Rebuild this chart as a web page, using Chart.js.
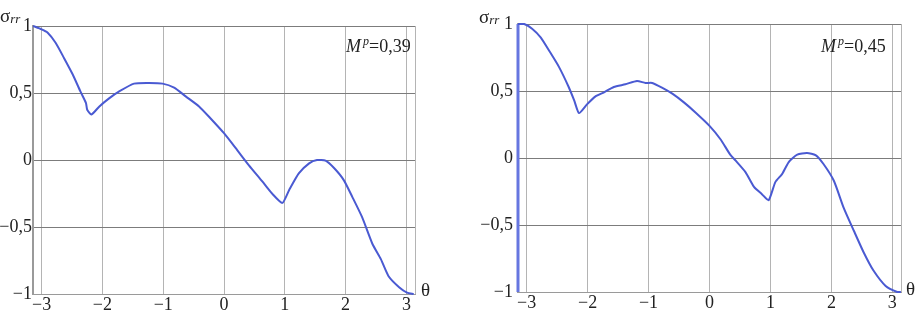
<!DOCTYPE html>
<html>
<head>
<meta charset="utf-8">
<script src="https://cdn.jsdelivr.net/npm/chart.js@4.4.1/dist/chart.umd.min.js"></script>
<style>
  body { margin: 0; background: #fff; width: 916px; height: 313px; position: relative; overflow: hidden; font-family: "Liberation Serif", "Times New Roman", serif; }
  .box { position: absolute; top: 0; width: 458px; height: 313px; }
  .lbl { position: absolute; color: #222; white-space: nowrap; line-height: 1; }
  .sig { font-size: 19px; }
  .sig sub { font-size: 13px; font-style: italic; vertical-align: -1px; }
  .th { font-size: 19px; }
  .mp { font-size: 18px; }
  .mp sup { font-size: 12px; font-style: italic; vertical-align: 7px; margin-left: 2px; }
</style>
</head>
<body>
<div class="box" style="left:0"><canvas id="left" width="458" height="313"></canvas></div>
<div class="box" style="left:458px"><canvas id="right" width="458" height="313"></canvas></div>

<div class="lbl sig" style="left:0px;top:6px">σ<sub>rr</sub></div>
<div class="lbl sig" style="left:479px;top:7px">σ<sub>rr</sub></div>
<div class="lbl mp" style="left:346px;top:35px"><i>M</i><sup>p</sup>=0,39</div>
<div class="lbl mp" style="left:821px;top:35px"><i>M</i><sup>p</sup>=0,45</div>
<div class="lbl th" style="left:421px;top:280px">θ</div>
<div class="lbl th" style="left:906px;top:279px">θ</div>

<script>
// M^p = 0,39
const thetaA = [-3.14, -3.0, -2.9, -2.77, -2.63, -2.49, -2.36, -2.27, -2.25, -2.18, -2.05, -1.89, -1.73, -1.48, -1.23, -1.01, -0.82, -0.63, -0.41, -0.22, 0, 0.19, 0.41, 0.63, 0.79, 0.96, 1.07, 1.23, 1.40, 1.53, 1.67, 1.81, 1.97, 2.11, 2.27, 2.44, 2.58, 2.71, 2.88, 3.01, 3.12];
const sigmaA = [1.0, 0.975, 0.95, 0.875, 0.76, 0.64, 0.51, 0.425, 0.375, 0.34, 0.40, 0.46, 0.51, 0.57, 0.575, 0.57, 0.54, 0.475, 0.40, 0.31, 0.20, 0.09, -0.04, -0.16, -0.25, -0.32, -0.225, -0.10, -0.025, 0.0, -0.005, -0.06, -0.15, -0.275, -0.425, -0.625, -0.74, -0.87, -0.95, -0.99, -1.0];

// M^p = 0,45
const thetaB = [-3.1415, -3.1415, -3.04, -2.91, -2.77, -2.63, -2.47, -2.31, -2.22, -2.14, -2.01, -1.87, -1.73, -1.57, -1.38, -1.19, -1.05, -0.94, -0.78, -0.61, -0.42, -0.23, 0, 0.18, 0.34, 0.43, 0.59, 0.73, 0.86, 0.97, 1.08, 1.19, 1.30, 1.44, 1.60, 1.74, 1.87, 2.04, 2.20, 2.37, 2.53, 2.69, 2.89, 3.08, 3.14];
const sigmaB = [-1.0, 1.0, 1.0, 0.965, 0.90, 0.80, 0.68, 0.53, 0.43, 0.335, 0.40, 0.46, 0.49, 0.53, 0.55, 0.575, 0.56, 0.56, 0.525, 0.48, 0.415, 0.34, 0.24, 0.14, 0.025, -0.02, -0.105, -0.215, -0.27, -0.315, -0.18, -0.12, -0.03, 0.025, 0.037, 0.022, -0.045, -0.17, -0.37, -0.545, -0.705, -0.84, -0.955, -1.0, -1.0];

const xTicks = [-3, -2, -1, 0, 1, 2, 3];
const yTicks = [-1, -0.5, 0, 0.5, 1];

const fmt = v => (v < 0 ? '\u2212' : '') + String(Math.abs(v)).replace('.', ',');
const font = { family: '"Liberation Serif", "Times New Roman", serif', size: 18 };

function makeChart(id, xs, ys, o) {
  const pts = xs.map((x, i) => ({ x: x, y: ys[i] }));
  return new Chart(document.getElementById(id), {
    type: 'scatter',
    data: {
      datasets: [{
        data: pts,
        showLine: true,
        borderColor: '#4a5ad2',
        borderWidth: 2,
        pointRadius: 0,
        tension: 0.2,
        clip: 4,
        // the jump at -pi is drawn a bit wider and lighter, like in the source
        segment: {
          borderWidth: c => (c.p0.x === c.p1.x ? 3 : 2),
          borderColor: c => (c.p0.x === c.p1.x ? '#6676e0' : '#4a5ad2')
        }
      }]
    },
    options: {
      responsive: false,
      animation: false,
      layout: { padding: { top: o.top, right: o.right, left: 0, bottom: 0 } },
      plugins: { legend: { display: false }, tooltip: { enabled: false } },
      scales: {
        x: {
          type: 'linear',
          min: -Math.PI,
          max: Math.PI,
          afterBuildTicks: s => { s.ticks = xTicks.map(v => ({ value: v })).concat([{ value: Math.PI }]); },
          afterFit: s => { s.height = o.xh; },
          ticks: {
            autoSkip: false,
            maxRotation: 0,
            padding: 0,
            color: '#222',
            font: font,
            callback: v => xTicks.includes(v) ? fmt(v) : ''
          },
          grid: { color: '#b4b4b4', lineWidth: 1, drawTicks: false },
          border: { color: '#9a9a9a', width: 1 }
        },
        y: {
          min: -1,
          max: 1,
          afterBuildTicks: s => { s.ticks = yTicks.map(v => ({ value: v })); },
          afterFit: s => { s.width = o.yw; },
          ticks: {
            padding: o.ypad,
            color: '#222',
            font: font,
            callback: v => fmt(v)
          },
          grid: { color: '#7c7c7c', lineWidth: 1, drawTicks: false },
          border: { color: '#9a9a9a', width: 2 }
        }
      }
    }
  });
}

makeChart('left', thetaA, sigmaA, { top: 26, right: 43, xh: 19, yw: 33, ypad: 1 });
makeChart('right', thetaB, sigmaB, { top: 24, right: 15, xh: 21, yw: 60, ypad: 5 });
</script>
</body>
</html>
